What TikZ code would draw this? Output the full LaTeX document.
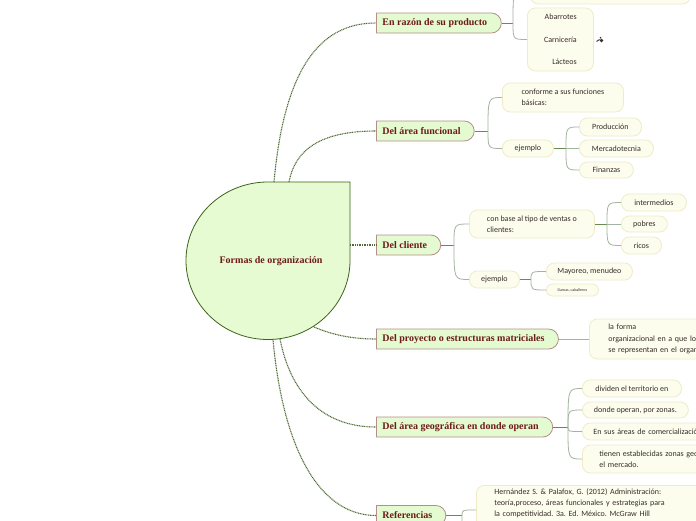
\documentclass[tikz,border=0pt]{standalone}
\usepackage{fontspec}
\setmainfont{Liberation Serif}
\newfontfamily\subf{Carlito}
\usetikzlibrary{shapes.misc}
\definecolor{mainfill}{HTML}{E4FAD0}
\definecolor{mainborder}{HTML}{B38E8A}
\definecolor{maintext}{HTML}{6E1A1A}
\definecolor{centerborder}{HTML}{3F621A}
\definecolor{centerfill}{HTML}{E6FBD2}
\definecolor{subfill}{HTML}{FCFDEC}
\definecolor{subborder}{HTML}{EFEBC9}
\definecolor{subtext}{HTML}{3A2C2C}
\definecolor{dotline}{HTML}{4D6B33}
\definecolor{stubline}{HTML}{6B8A4F}
\definecolor{curveline}{HTML}{A3B5A0}
\begin{document}
\frenchspacing
\begin{tikzpicture}[x=1pt,y=-1pt,
 mainn/.style={rounded rectangle, rounded rectangle west arc=none, draw=mainborder, fill=mainfill, line width=0.8pt, minimum height=20pt, inner xsep=6pt, inner ysep=0pt, anchor=west, text=maintext, font=\fontsize{10}{12}\selectfont\bfseries, execute at end node={\hspace*{7pt}}},
 subn/.style={draw=subborder, fill=subfill, line width=0.8pt, rounded corners=8pt, inner xsep=0pt, inner ysep=0pt, anchor=west, align=left, text=subtext, font=\subf\fontsize{8}{11.5}\selectfont},
 dotc/.style={draw=dotline, line width=1.1pt, dash pattern=on 1pt off 0.7pt},
 stub/.style={draw=stubline, line width=1pt},
 brc/.style={draw=curveline, line width=0.8pt},
]
\useasboundingbox (0,0) rectangle (696,520);
\fill[white] (0,0) rectangle (696,520);

% central node
\draw[draw=centerborder, fill=centerfill, line width=0.8pt]
  (350,260.5) .. controls (350,304.1) and (313.3,339.5) .. (268,339.5)
  .. controls (222.7,339.5) and (186,304.1) .. (186,260.5)
  .. controls (186,216.9) and (222.7,182) .. (268,182)
  -- (350,182) -- cycle;
\node[text=maintext, font=\fontsize{10}{12}\selectfont\bfseries] (center) at (271,261) {Formas de organización};
\coordinate (c1) at (274,182);
\coordinate (c2) at (289,182);
\coordinate (c3) at (350,245);
\coordinate (c4) at (314,327);
\coordinate (c5) at (280,339);
\coordinate (c6) at (273,339.5);

% main nodes
\node[mainn] (m1) at (376,23) {En razón de su producto};
\node[mainn] (m2) at (376,131) {Del área funcional};
\node[mainn] (m3) at (376,245) {Del cliente};
\node[mainn] (m4) at (376,339) {Del proyecto o estructuras matriciales};
\node[mainn] (m5) at (376,427) {Del área geográfica en donde operan};
\node[mainn] (m6) at (376,515.5) {Referencias};

% main connectors
\draw[dotc] (c1) .. controls (285,60) and (325,23) .. (m1.west);
\draw[dotc] (c2) .. controls (295,150) and (320,131) .. (m2.west);
\draw[dotc] (c3) -- (m3.west);
\draw[dotc] (c4) .. controls (335,336) and (355,339) .. (m4.west);
\draw[dotc] (c5) .. controls (290,390) and (320,427) .. (m5.west);
\draw[dotc] (c6) .. controls (283,450) and (320,515.5) .. (m6.west);

% sub nodes
\node[subn, minimum width=160pt, minimum height=32pt] (top) at (530,-12) {};
\node[subn, align=right, minimum width=66pt, minimum height=63pt, font=\subf\fontsize{8}{22.5}\selectfont] (abc) at (527,39.5) {Abarrotes\\Carnicería\\Lácteos};
\node[subn, minimum width=121pt, minimum height=29pt] (conf) at (502,97.5) {conforme a sus funciones\\básicas:};
\node[subn, minimum width=51pt, minimum height=17pt] (ej1) at (502,148.5) {ejemplo};
\node[subn, minimum width=62pt, minimum height=18pt] (prod) at (579,127) {Producción};
\node[subn, minimum width=74pt, minimum height=17pt] (merc) at (579,148.5) {Mercadotecnia};
\node[subn, minimum width=54pt, minimum height=16pt] (fin) at (579,170) {Finanzas};
\node[subn, minimum width=125pt, minimum height=28pt] (base) at (469,224) {con base al tipo de ventas o\\clientes:};
\node[subn, minimum width=50pt, minimum height=17pt] (ej2) at (469,279.5) {ejemplo};
\node[subn, minimum width=65pt, minimum height=17pt] (inter) at (621,202.5) {intermedios};
\node[subn, minimum width=46pt, minimum height=16pt] (pob) at (621,224) {pobres};
\node[subn, minimum width=40pt, minimum height=17pt] (ric) at (621,245.5) {ricos};
\node[subn, minimum width=86pt, minimum height=17pt] (may) at (546,271.5) {Mayoreo, menudeo};
\node[subn, minimum width=52pt, minimum height=12pt, rounded corners=6pt, font=\subf\fontsize{4}{5}\selectfont] (dam) at (546,290) {Damas, caballeros};
\node[subn, inner xsep=19pt, text width=200pt, minimum height=40pt, font=\subf\fontsize{8}{11.5}\selectfont] (proy) at (589,339) {la forma\\organizacional en a que los\\se representan en el organigrama};
\node[subn, minimum width=99pt, minimum height=17pt] (div) at (582,388.5) {dividen el territorio en};
\node[subn, minimum width=106pt, minimum height=16pt] (don) at (582,410) {donde operan, por zonas.};
\node[subn, inner xsep=11pt, text width=200pt, minimum height=17pt] (ens) at (582,431.5) {En sus áreas de comercialización};
\node[subn, inner xsep=17pt, text width=200pt, minimum height=28pt, font=\subf\fontsize{8}{10.5}\selectfont] (tie) at (582,459) {tienen establecidas zonas geográficas en\\el mercado.};
\node[subn, anchor=north west, inner xsep=18pt, inner ysep=3.5pt, text width=200pt, minimum width=201pt, font=\subf\fontsize{8}{11}\selectfont] (her) at (476,485) {Hernández S. \& Palafox, G. (2012) Administración:\\teoría,proceso, áreas funcionales y estrategias para\\la competitividad. 3a. Ed. México. McGraw Hill\\ \strut};

% icon
\draw[line width=0.9pt, subtext] (596.5,41.5) -- (599.5,39.5);
\fill[subtext] (601.5,40.5) circle (1.8pt);
\fill[subtext] (600.5,37.8) circle (0.9pt);

% sub connectors
\coordinate (s1) at (513,23);
\draw[stub] (m1.east) -- (s1);
\draw[brc] (s1) .. controls (s1 |- top.west) .. (top.west);
\draw[brc] (s1) .. controls (s1 |- abc.west) .. (abc.west);

\coordinate (s2) at (488,131);
\draw[stub] (m2.east) -- (s2);
\draw[brc] (s2) .. controls (s2 |- conf.west) .. (conf.west);
\draw[brc] (s2) .. controls (s2 |- ej1.west) .. (ej1.west);

\coordinate (s3) at (566,148.5);
\draw[stub] (ej1.east) -- (s3);
\draw[brc] (s3) .. controls (s3 |- prod.west) .. (prod.west);
\draw[brc] (s3) -- (merc.west);
\draw[brc] (s3) .. controls (s3 |- fin.west) .. (fin.west);

\coordinate (s4) at (454,245);
\draw[stub] (m3.east) -- (s4);
\draw[brc] (s4) .. controls (s4 |- base.west) .. (base.west);
\draw[brc] (s4) .. controls (s4 |- ej2.west) .. (ej2.west);

\coordinate (s5) at (607,224);
\draw[stub] (base.east) -- (s5);
\draw[brc] (s5) .. controls (s5 |- inter.west) .. (inter.west);
\draw[brc] (s5) -- (pob.west);
\draw[brc] (s5) .. controls (s5 |- ric.west) .. (ric.west);

\coordinate (s6) at (531,279.5);
\draw[stub] (ej2.east) -- (s6);
\draw[brc] (s6) .. controls (s6 |- may.west) .. (may.west);
\draw[brc] (s6) .. controls (s6 |- dam.west) .. (dam.west);

\draw[brc] (m4.east) -- (proy.west);

\coordinate (s7) at (568,427);
\draw[stub] (m5.east) -- (s7);
\draw[brc] (s7) .. controls (s7 |- div.west) .. (div.west);
\draw[brc] (s7) .. controls (s7 |- don.west) .. (don.west);
\draw[brc] (s7) .. controls (s7 |- ens.west) .. (ens.west);
\draw[brc] (s7) .. controls (s7 |- tie.west) .. (tie.west);

\coordinate (s8) at (462,515.5);
\coordinate (low) at (476,560);
\draw[stub] (m6.east) -- (s8);
\draw[brc] (s8) .. controls (s8 |- her.west) .. (her.west);
\draw[brc] (s8) .. controls (s8 |- low) .. (low);
\end{tikzpicture}
\end{document}
